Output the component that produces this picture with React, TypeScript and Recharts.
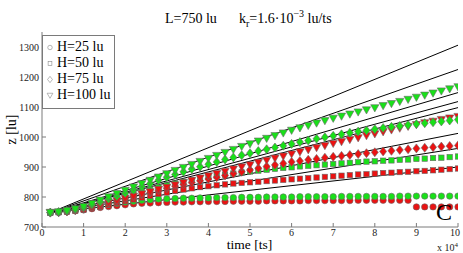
import { ComposedChart, Scatter, Line, XAxis, YAxis, Legend } from "recharts";

// time in units of 1e4 ts
const times = [
  0.2, 0.4, 0.6, 0.8, 1.0, 1.2, 1.4, 1.6, 1.8, 2.0,
  2.2, 2.4, 2.6, 2.8, 3.0, 3.2, 3.4, 3.6, 3.8, 4.0,
  4.2, 4.4, 4.6, 4.8, 5.0, 5.2, 5.4, 5.6, 5.8, 6.0,
  6.2, 6.4, 6.6, 6.8, 7.0, 7.2, 7.4, 7.6, 7.8, 8.0,
  8.2, 8.4, 8.6, 8.8, 9.0, 9.2, 9.4, 9.6, 9.8, 10.0,
];

// H=25 lu (circles)
const greenH25 = [
  748, 750, 753, 757, 762, 767, 771, 775, 779, 783,
  786, 789, 791, 793, 794, 795, 796, 796, 797, 797,
  798, 798, 798, 799, 799, 799, 800, 800, 800, 800,
  801, 801, 801, 801, 801, 802, 802, 802, 802, 802,
  802, 802, 803, 803, 803, 803, 803, 803, 803, 803,
];
const redH25 = [
  748, 749, 751, 754, 757, 761, 765, 768, 771, 774,
  777, 779, 780, 781, 782, 783, 783, 784, 784, 785,
  785, 785, 786, 786, 786, 786, 787, 787, 787, 787,
  787, 788, 788, 788, 788, 788, 788, 789, 789, 789,
  789, 789, 789, 789, 767, 767, 767, 767, 767, 767,
];

// H=50 lu (squares)
const greenH50 = [
  748, 750, 753, 758, 764, 771, 778, 786, 794, 802,
  810, 818, 825, 832, 839, 845, 851, 856, 861, 866,
  870, 874, 878, 882, 885, 888, 891, 894, 897, 899,
  902, 904, 906, 908, 910, 912, 914, 916, 918, 919,
  921, 922, 924, 925, 927, 928, 930, 931, 933, 935,
];
const redH50 = [
  748, 749, 751, 754, 758, 763, 768, 774, 780, 786,
  792, 798, 804, 810, 815, 820, 825, 829, 833, 836,
  839, 842, 845, 847, 849, 851, 853, 855, 857, 859,
  861, 863, 865, 867, 869, 871, 873, 875, 876, 878,
  880, 881, 883, 884, 886, 887, 889, 891, 893, 895,
];

// H=75 lu (diamonds)
const greenH75 = [
  748, 750, 754, 759, 766, 775, 784, 794, 803, 813,
  824, 835, 845, 856, 866, 875, 884, 893, 901, 909,
  917, 925, 932, 939, 946, 953, 959, 965, 971, 977,
  983, 988, 994, 999, 1004, 1009, 1014, 1018, 1022, 1026,
  1030, 1034, 1037, 1040, 1043, 1046, 1049, 1052, 1055, 1058,
];
const redH75 = [
  748, 749, 752, 756, 761, 767, 773, 780, 787, 794,
  801, 808, 815, 822, 829, 836, 842, 848, 854, 860,
  866, 872, 878, 884, 890, 896, 902, 907, 912, 917,
  920, 924, 927, 931, 934, 937, 940, 943, 946, 949,
  952, 954, 957, 959, 962, 964, 966, 968, 970, 972,
];

// H=100 lu (down triangles)
const greenH100 = [
  748, 750, 754, 760, 768, 778, 789, 800, 811, 822,
  833, 844, 855, 866, 877, 888, 898, 908, 918, 928,
  938, 948, 958, 968, 977, 986, 995, 1004, 1013, 1022,
  1030, 1038, 1046, 1054, 1062, 1069, 1076, 1083, 1090, 1097,
  1104, 1111, 1118, 1125, 1132, 1139, 1146, 1153, 1160, 1167,
];
const redH100 = [
  748, 749, 752, 756, 761, 767, 774, 781, 788, 795,
  802, 810, 817, 825, 832, 840, 848, 855, 863, 870,
  878, 885, 893, 900, 907, 915, 922, 929, 936, 943,
  950, 957, 964, 971, 978, 984, 991, 997, 1004, 1010,
  1017, 1023, 1029, 1035, 1041, 1047, 1052, 1058, 1063, 1068,
];

// black reference lines: common start, value at t=10
const fitTimes = [0.2, 10];
const fitStart = 748;
const fitEnds = [1306, 1225, 1148, 1118, 1098, 1012, 962, 900];

const xTicks = [0, 1, 2, 3, 4, 5, 6, 7, 8, 9, 10];
const yTicks = [700, 800, 900, 1000, 1100, 1200, 1300];
const legendLabels = ["H=25 lu", "H=50 lu", "H=75 lu", "H=100 lu"];
const legendShapes = ["circle", "square", "diamond", "triangle"];

const SERIF = '"Liberation Serif", "DejaVu Serif", serif';
const GREEN = "#19e019";
const RED = "#ea1212";
const AXIS = "#7a7a7a";

const series = [
  { key: "r25", shape: "circle", fill: RED, values: redH25 },
  { key: "g25", shape: "circle", fill: GREEN, values: greenH25 },
  { key: "r50", shape: "square", fill: RED, values: redH50 },
  { key: "g50", shape: "square", fill: GREEN, values: greenH50 },
  { key: "r75", shape: "diamond", fill: RED, values: redH75 },
  { key: "r100", shape: "triangle", fill: RED, values: redH100 },
  { key: "g75", shape: "diamond", fill: GREEN, values: greenH75 },
  { key: "g100", shape: "triangle", fill: GREEN, values: greenH100 },
];

const toRows = (vals: number[]) => times.map((t, i) => ({ t, z: vals[i] }));

function Marker({ cx, cy, kind, fill, stroke, s = 1 }: any) {
  if (cx == null || cy == null) return null;
  const common = { fill, stroke, strokeWidth: 0.6 };
  if (kind === "circle") return <circle cx={cx} cy={cy} r={3.2 * s} {...common} />;
  if (kind === "square") {
    const h = 2.7 * s;
    return <rect x={cx - h} y={cy - h} width={2 * h} height={2 * h} {...common} />;
  }
  if (kind === "diamond") {
    const w = 3.5 * s;
    const h = 4.5 * s;
    return (
      <polygon
        points={`${cx},${cy - h} ${cx + w},${cy} ${cx},${cy + h} ${cx - w},${cy}`}
        {...common}
      />
    );
  }
  const w = 4.1 * s;
  return (
    <polygon
      points={`${cx - w},${cy - 3.2 * s} ${cx + w},${cy - 3.2 * s} ${cx},${cy + 4 * s}`}
      {...common}
    />
  );
}

function XTick({ x, y, payload }: any) {
  return (
    <text x={x} y={y} dy="0.71em" textAnchor="middle" fontFamily={SERIF} fontSize={10} fill="#222">
      {payload.value}
    </text>
  );
}

function YTick({ x, y, payload }: any) {
  return (
    <text x={x} y={y} dy="0.35em" textAnchor="end" fontFamily={SERIF} fontSize={10} fill="#222">
      {payload.value}
    </text>
  );
}

function LegendBox() {
  return (
    <div
      style={{
        width: 73,
        height: 74,
        boxSizing: "border-box",
        border: `1px solid ${AXIS}`,
        background: "#fff",
        paddingTop: 3,
        fontFamily: SERIF,
        fontSize: 14,
        color: "#000",
      }}
    >
      {legendLabels.map((label, i) => (
        <div key={label} style={{ display: "flex", alignItems: "center", height: 16, lineHeight: "16px" }}>
          <svg width={14} height={16} style={{ flex: "none" }}>
            <Marker cx={7} cy={8.5} kind={legendShapes[i]} fill="none" stroke="#888" s={0.7} />
          </svg>
          <span style={{ whiteSpace: "nowrap", fontFamily: SERIF }}>{label}</span>
        </div>
      ))}
    </div>
  );
}

export default function App() {
  return (
    <div style={{ position: "absolute", left: 0, top: 0, width: 463, height: 253, background: "#fff" }}>
      <ComposedChart
        width={463}
        height={253}
        margin={{ top: 32, right: 5, bottom: 0, left: 0 }}
        style={{ fontFamily: SERIF }}
      >
        <XAxis
          dataKey="t"
          type="number"
          domain={[0, 10]}
          ticks={xTicks}
          allowDataOverflow
          height={26}
          tickSize={-4}
          tickMargin={6}
          stroke={AXIS}
          tick={<XTick />}
        />
        <XAxis
          xAxisId="top"
          orientation="top"
          dataKey="t"
          type="number"
          domain={[0, 10]}
          ticks={xTicks}
          allowDataOverflow
          height={0}
          tickSize={-4}
          stroke={AXIS}
          tick={false}
        />
        <YAxis
          type="number"
          domain={[700, 1350]}
          ticks={yTicks}
          allowDataOverflow
          width={42}
          tickSize={-4}
          tickMargin={7}
          stroke={AXIS}
          tick={<YTick />}
        />
        <YAxis
          yAxisId="right"
          orientation="right"
          type="number"
          domain={[700, 1350]}
          ticks={yTicks}
          allowDataOverflow
          width={0}
          tickSize={-4}
          stroke={AXIS}
          tick={false}
        />
        {series.map((s) => (
          <Scatter
            key={s.key}
            data={toRows(s.values)}
            dataKey="z"
            isAnimationActive={false}
            shape={(p: any) => <Marker cx={p.cx} cy={p.cy} kind={s.shape} fill={s.fill} stroke="#6a6a6a" />}
          />
        ))}
        {fitEnds.map((end, i) => (
          <Line
            key={`fit${i}`}
            data={[
              { t: fitTimes[0], z: fitStart },
              { t: fitTimes[1], z: end },
            ]}
            dataKey="z"
            type="linear"
            stroke="#000"
            strokeWidth={1}
            dot={false}
            activeDot={false}
            isAnimationActive={false}
          />
        ))}
        <Legend
          layout="vertical"
          align="center"
          verticalAlign="middle"
          content={() => <LegendBox />}
          wrapperStyle={{ left: 42, top: 35, width: 73, height: 74 }}
        />
      </ComposedChart>
      <svg
        width={463}
        height={253}
        style={{ position: "absolute", left: 0, top: 0, pointerEvents: "none" }}
        fontFamily={SERIF}
      >
        <text x={165} y={23} fontSize={14} fill="#000">
          L=750 lu
        </text>
        <text x={239} y={23} fontSize={14} fill="#000">
          k
          <tspan dy={4} fontSize={10}>r</tspan>
          <tspan dy={-4}>=1.6·10</tspan>
          <tspan dy={-6} fontSize={10}>−3</tspan>
          <tspan dy={6}> lu/ts</tspan>
        </text>
        <text x={249.5} y={249} fontSize={13.5} fill="#000" textAnchor="middle">
          time [ts]
        </text>
        <text transform="translate(16,129.5) rotate(-90)" fontSize={14} fill="#000" textAnchor="middle">
          z [lu]
        </text>
        <text x={436} y={220} fontSize={24} fill="#000">
          C
        </text>
        <text x={458} y={251} fontSize={10} fill="#222" textAnchor="end">
          x 10
          <tspan dy={-4} fontSize={7}>4</tspan>
        </text>
      </svg>
    </div>
  );
}
